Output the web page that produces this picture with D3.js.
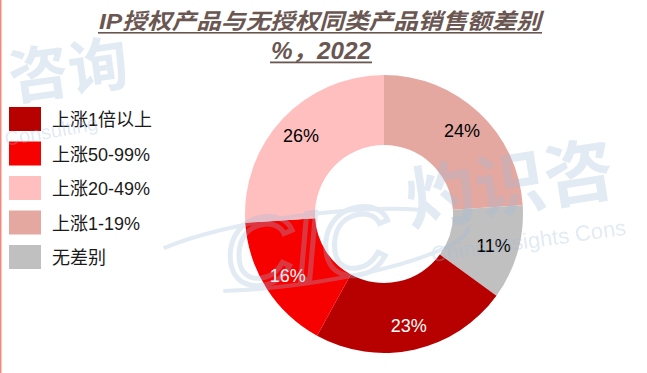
<!DOCTYPE html>
<html>
<head>
<meta charset="utf-8">
<script src="https://cdn.jsdelivr.net/npm/d3@7"></script>
<style>
  body { margin: 0; background: #fff; }
  svg { display: block; }
</style>
</head>
<body>
<div id="chart"></div>
<script>
// values read clockwise from 12 o'clock
const categories = ["上涨1-19%", "无差别", "上涨1倍以上", "上涨50-99%", "上涨20-49%"];
const values = [24, 11, 23, 16, 26];
const legendOrder = ["上涨1倍以上", "上涨50-99%", "上涨20-49%", "上涨1-19%", "无差别"];
const titleLines = ["IP授权产品与无授权同类产品销售额差别", "%，2022"];

const colors = {
  "上涨1倍以上": "#b70000",
  "上涨50-99%": "#f70000",
  "上涨20-49%": "#ffbfbf",
  "上涨1-19%": "#e4a8a0",
  "无差别": "#c0c0c0"
};
const darkLabel = { "上涨1倍以上": true, "上涨50-99%": true };

const width = 647, height = 373;
const cx = 384, cy = 214, outerR = 139, innerR = 69, labelR = 114;

const svg = d3.select("#chart").append("svg")
  .attr("width", width)
  .attr("height", height);

// left border line
svg.append("line")
  .attr("x1", 0.75).attr("x2", 0.75)
  .attr("y1", 0).attr("y2", height)
  .attr("stroke", "#f08a80")
  .attr("stroke-width", 1.5);

// title
const title = svg.append("g")
  .attr("font-family", "'Liberation Sans', 'Noto Sans CJK SC', sans-serif")
  .attr("font-weight", "bold")
  .attr("font-style", "italic")
  .attr("fill", "#6b5752");

title.append("text")
  .attr("x", 320).attr("y", 29)
  .attr("text-anchor", "middle")
  .attr("font-size", 22)
  .attr("textLength", 442)
  .attr("lengthAdjust", "spacingAndGlyphs")
  .text(titleLines[0]);
title.append("rect")
  .attr("x", 98).attr("y", 32).attr("width", 444).attr("height", 1.6);

title.append("text")
  .attr("x", 321).attr("y", 59)
  .attr("text-anchor", "middle")
  .attr("font-size", 24)
  .attr("textLength", 100)
  .attr("lengthAdjust", "spacingAndGlyphs")
  .text(titleLines[1]);
title.append("rect")
  .attr("x", 270).attr("y", 61.5).attr("width", 102).attr("height", 1.8);

// donut
const pie = d3.pie().sort(null).value(d => d.value);
const arcs = pie(categories.map((c, i) => ({ name: c, value: values[i] })));
const arc = d3.arc().innerRadius(innerR).outerRadius(outerR);
const labelArc = d3.arc().innerRadius(labelR).outerRadius(labelR);

const donut = svg.append("g").attr("transform", `translate(${cx},${cy})`);

donut.selectAll("path.slice")
  .data(arcs)
  .enter().append("path")
  .attr("class", "slice")
  .attr("d", arc)
  .attr("fill", d => colors[d.data.name]);

donut.selectAll("text.lbl")
  .data(arcs)
  .enter().append("text")
  .attr("class", "lbl")
  .attr("transform", d => `translate(${labelArc.centroid(d)})`)
  .attr("text-anchor", "middle")
  .attr("dy", "0.36em")
  .attr("font-family", "'Liberation Sans', Arial, sans-serif")
  .attr("font-size", 18)
  .attr("fill", d => darkLabel[d.data.name] ? "#fff" : "#000")
  .text(d => d.data.value + "%");

// legend
const legend = svg.append("g");
const rowY = d3.scalePoint().domain(legendOrder).range([107, 245]);

const row = legend.selectAll("g.row")
  .data(legendOrder)
  .enter().append("g")
  .attr("class", "row")
  .attr("transform", d => `translate(9,${rowY(d)})`);

row.append("rect")
  .attr("width", 32).attr("height", 24)
  .attr("fill", d => colors[d]);

row.append("text")
  .attr("x", 43).attr("y", 19)
  .attr("font-family", "'Liberation Sans', 'Noto Sans CJK SC', sans-serif")
  .attr("font-size", 18)
  .attr("fill", "#1a1a1a")
  .text(d => d);

// watermark (faint, drawn on top)
const wm = svg.append("g")
  .attr("fill", "#9fbad9")
  .attr("opacity", 0.3)
  .attr("font-family", "'Noto Sans CJK SC', sans-serif")
  .attr("font-weight", "bold");

wm.append("text")
  .attr("transform", "translate(12,100) rotate(-8)")
  .attr("font-size", 60)
  .text("咨询");
wm.append("text")
  .attr("transform", "translate(6,146) rotate(-10)")
  .attr("font-family", "'Liberation Sans', sans-serif")
  .attr("font-weight", "normal")
  .attr("font-size", 20)
  .text("Consulting");
wm.append("text")
  .attr("transform", "translate(410,226) rotate(-9)")
  .attr("font-size", 70)
  .text("灼识咨");
wm.append("text")
  .attr("transform", "translate(432,262) rotate(-8)")
  .attr("font-family", "'Liberation Sans', sans-serif")
  .attr("font-weight", "normal")
  .attr("font-size", 22)
  .text("China Insights Cons");
wm.append("text")
  .attr("transform", "translate(228,288) rotate(-6)")
  .attr("font-family", "'Liberation Sans', sans-serif")
  .attr("font-weight", "normal")
  .attr("font-style", "italic")
  .attr("font-size", 96)
  .attr("fill", "none")
  .attr("stroke", "#9fbad9")
  .attr("stroke-width", 5)
  .text("CIC");
wm.append("ellipse")
  .attr("cx", 300).attr("cy", 250).attr("rx", 170).attr("ry", 34)
  .attr("transform", "rotate(-8,300,250)")
  .attr("fill", "none")
  .attr("stroke", "#9fbad9")
  .attr("stroke-width", 4)
  .attr("stroke-dasharray", "260 140");
</script>
</body>
</html>
